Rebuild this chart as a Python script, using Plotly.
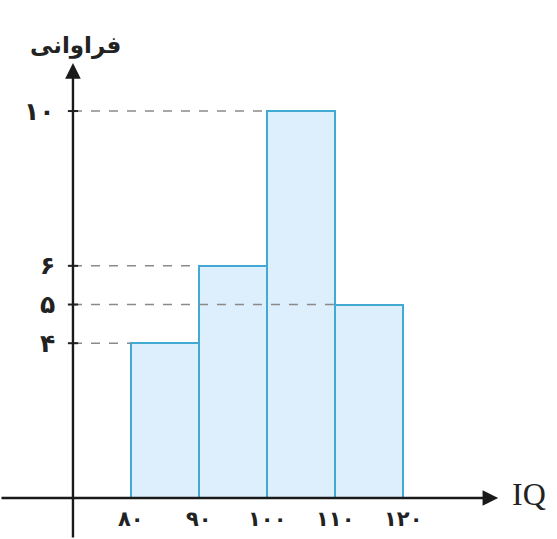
import plotly.graph_objects as go

# Class intervals (IQ) and their frequencies
bin_starts = [80, 90, 100, 110]
bin_width = 10
frequencies = [4, 6, 10, 5]
x_tick_values = [80, 90, 100, 110, 120]
x_tick_labels = ["۸۰", "۹۰", "۱۰۰", "۱۱۰", "۱۲۰"]
y_tick_values = [4, 5, 6, 10]
y_tick_labels = ["۴", "۵", "۶", "۱۰"]
y_title = "فراوانی"
x_title = "IQ"

X0, X1 = 60.74, 142.65
Y0, Y1 = -1.06, 12.87
AXIS_X = 71.47

fig = go.Figure()
fig.add_trace(go.Bar(
    x=[s + bin_width / 2 for s in bin_starts],
    y=frequencies,
    width=bin_width,
    marker=dict(color="#ddeefc", line=dict(color="#42a9d2", width=2)),
    hoverinfo="skip",
))

shapes = []
annotations = []

# dashed guides from the vertical axis to the bar of matching height
for v in y_tick_values:
    end = None
    for s, f in zip(bin_starts, frequencies):
        if f == v:
            end = s
            break
    shapes.append(dict(type="line", xref="x", yref="y", x0=AXIS_X, x1=end, y0=v, y1=v,
                       line=dict(color="#8a8a8a", width=1.5, dash="dash")))
    shapes.append(dict(type="line", xref="x", yref="y", x0=AXIS_X - 0.75, x1=AXIS_X + 0.75,
                       y0=v, y1=v, line=dict(color="#222", width=2)))

for v, t in zip(y_tick_values, y_tick_labels):
    annotations.append(dict(x=AXIS_X - 2.4, y=v, xref="x", yref="y", text="<b>" + t + "</b>",
                            showarrow=False,
                            font=dict(family="DejaVu Sans", size=25, color="#222"),
                            xanchor="right", yanchor="middle"))

for v, t in zip(x_tick_values, x_tick_labels):
    annotations.append(dict(x=v, y=-0.55, xref="x", yref="y", text="<b>" + t + "</b>",
                            showarrow=False,
                            font=dict(family="DejaVu Sans", size=21, color="#222"),
                            xanchor="center", yanchor="middle"))

# axes with arrow heads
annotations.append(dict(x=134.0, y=0, ax=X0, ay=0, xref="x", yref="y", axref="x", ayref="y",
                        text="", showarrow=True, arrowhead=2, arrowsize=1.3, arrowwidth=2.4,
                        arrowcolor="#1a1a1a", standoff=0))
annotations.append(dict(x=AXIS_X, y=11.24, ax=AXIS_X, ay=Y0, xref="x", yref="y", axref="x", ayref="y",
                        text="", showarrow=True, arrowhead=2, arrowsize=1.3, arrowwidth=2.4,
                        arrowcolor="#1a1a1a", standoff=0))

annotations.append(dict(x=135.8, y=0.1, xref="x", yref="y", text=x_title, showarrow=False,
                        font=dict(family="Liberation Serif", size=32, color="#222"),
                        xanchor="left", yanchor="middle"))
annotations.append(dict(x=AXIS_X + 0.3, y=11.3, xref="x", yref="y", text="<b>" + y_title + "</b>",
                        showarrow=False,
                        font=dict(family="DejaVu Sans", size=23, color="#222"),
                        xanchor="center", yanchor="bottom"))

fig.update_layout(
    width=557, height=539,
    margin=dict(l=0, r=0, t=0, b=0),
    paper_bgcolor="white", plot_bgcolor="white",
    showlegend=False,
    bargap=0,
    xaxis=dict(range=[X0, X1], visible=False, fixedrange=True),
    yaxis=dict(range=[Y0, Y1], visible=False, fixedrange=True),
    shapes=shapes,
    annotations=annotations,
)

fig.write_html("out.html")
